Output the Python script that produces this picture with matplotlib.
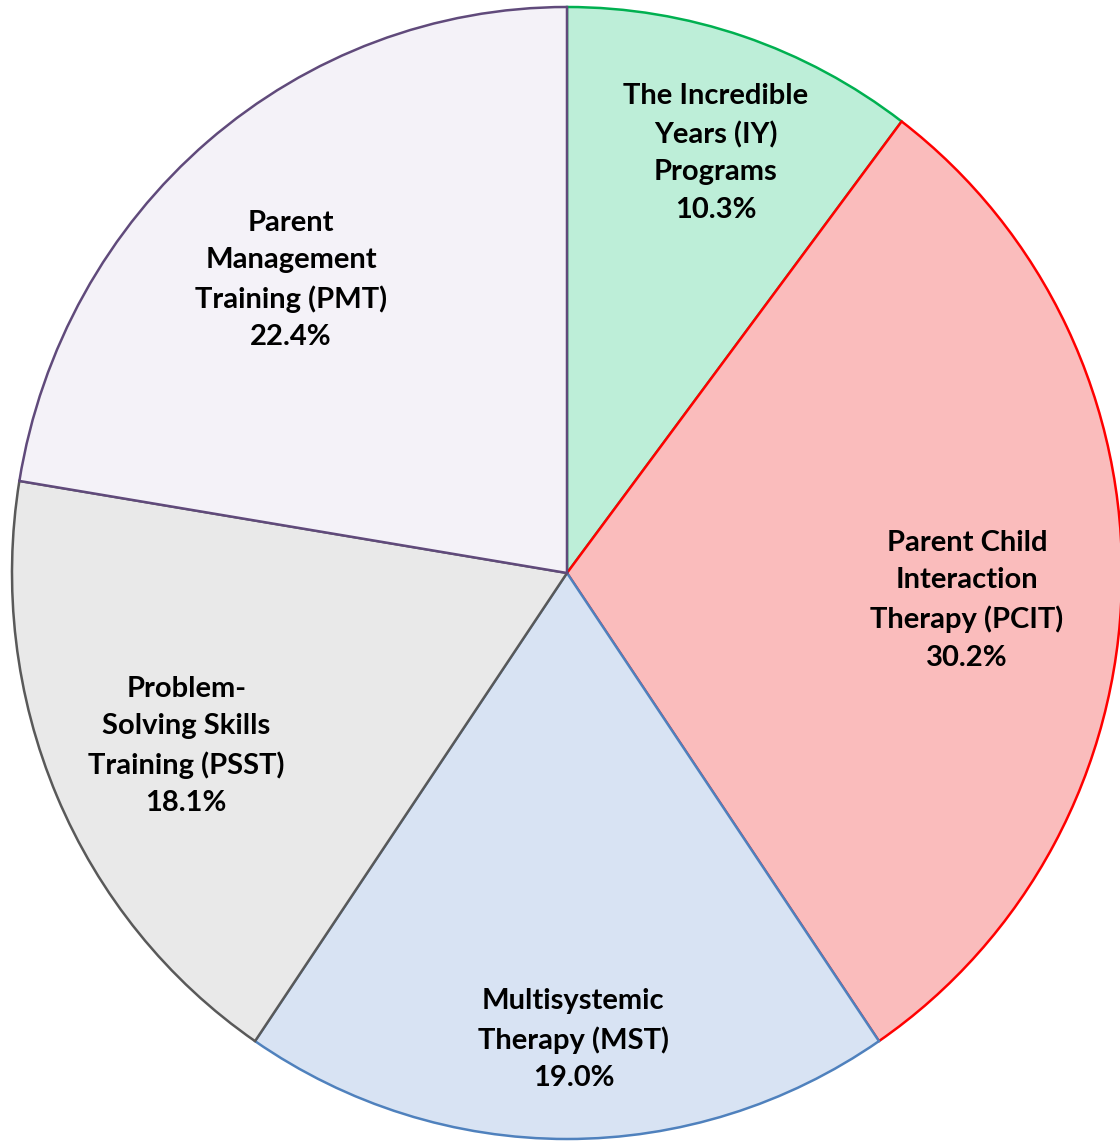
import numpy as np
import matplotlib
matplotlib.use('Agg')
import matplotlib.pyplot as plt

# programme shares (%), clockwise from 12 o'clock
programs = ['The Incredible\nYears (IY)\nPrograms',
            'Parent Child\nInteraction\nTherapy (PCIT)',
            'Multisystemic\nTherapy (MST)',
            'Problem-\nSolving Skills\nTraining (PSST)',
            'Parent\nManagement\nTraining (PMT)']
shares = [10.3, 30.2, 19.0, 18.1, 22.4]

fills = ['#bdeed8', '#fabcbc', '#d8e3f3', '#e9e9e9', '#f4f2f8']
edges = ['#00b050', '#ff0000', '#4f81bd', '#595959', '#604a7b']
# label placement: fraction of radius, and nudge (deg) from the wedge middle
label_r = [0.789, 0.722, 0.825, 0.751, 0.718]
label_nudge = [-1.3, -2.4, 0.8, 0.8, 3.5]

plt.rcParams['font.family'] = ['Lato', 'DejaVu Sans']

fig = plt.figure(figsize=(11.2, 11.41), dpi=100)
ax = fig.add_axes([0, 0, 1, 1])

wedges, _ = ax.pie(shares, startangle=90, counterclock=False, radius=1,
                   colors=fills,
                   wedgeprops=dict(linewidth=1.8))
for w, ec in zip(wedges, edges):
    w.set_edgecolor(ec)

for w, name, val, r, nd in zip(wedges, programs, shares, label_r, label_nudge):
    mid = np.deg2rad((w.theta1 + w.theta2) / 2 + nd)
    ax.text(r * np.cos(mid), r * np.sin(mid), f'{name}\n{val:.1f}%',
            ha='center', va='center', fontsize=21, fontweight='bold',
            linespacing=1.54, color='black')

ax.set_aspect('auto')
ax.set_xlim(-567 / 555, 553 / 555)
ax.set_ylim(-568 / 566, 573 / 566)
ax.axis('off')

fig.savefig('out.png', dpi=100, facecolor='white')
